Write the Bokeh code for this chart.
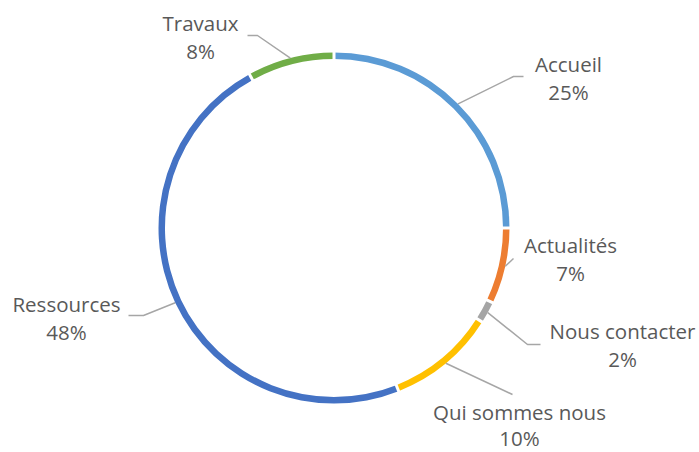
import numpy as np
from bokeh.plotting import figure
from bokeh.models import Range1d
from bokeh.core.properties import value
from bokeh.embed import file_html
from bokeh.resources import INLINE

# ---- data ----
categories = ["Accueil", "Actualités", "Nous contacter", "Qui sommes nous", "Ressources", "Travaux"]
shares = [25, 7, 2, 10, 48, 8]
colors = ["#5B9BD5", "#ED7D31", "#A5A5A5", "#FFC000", "#4472C4", "#70AD47"]

# ---- layout / style (picture-pixel frame, y measured upward) ----
W, H = 699, 452
CX, CY = 333.5, H - 227.5
R_OUT, R_IN = 175.5, 169.0
# label centre (x, y of first line), line gap, and leader elbow points
label_pos = [(568, H - 63), (570, H - 244), (622, H - 330), (519, H - 411), (66, H - 303), (200, H - 22)]
gaps = [28.5, 28.5, 28.5, 26.5, 28.5, 28.5]
elbows = [[(513, H - 76), (523, H - 76)],
          [(513, H - 258)],
          [(527, H - 344), (540, H - 344)],
          [(512, H - 394)],
          [(143, H - 315), (128, H - 315)],
          [(257, H - 35), (247, H - 35)]]
FONT = "Open Sans"
FS = "20.5px"
TXT = "#595959"

p = figure(width=W, height=H, output_backend="svg", toolbar_location=None,
           x_range=Range1d(0, W), y_range=Range1d(0, H),
           min_border=0, outline_line_color=None)
p.axis.visible = False
p.grid.visible = False
p.background_fill_color = "white"
p.border_fill_color = "white"

vals = np.array(shares, dtype=float)
frac = vals / vals.sum()
cum = np.concatenate([[0], np.cumsum(frac)])
starts = np.pi / 2 - cum[:-1] * 2 * np.pi
ends = np.pi / 2 - cum[1:] * 2 * np.pi
mids = (starts + ends) / 2

p.annular_wedge(x=CX, y=CY, inner_radius=R_IN, outer_radius=R_OUT,
                start_angle=list(starts), end_angle=list(ends), direction="clock",
                fill_color=colors, line_color=None)

# white separators between segments
for a in starts:
    p.segment(x0=CX + (R_IN - 2) * np.cos(a), y0=CY + (R_IN - 2) * np.sin(a),
              x1=CX + (R_OUT + 2) * np.cos(a), y1=CY + (R_OUT + 2) * np.sin(a),
              line_color="white", line_width=3)

# leader lines
for m, el in zip(mids, elbows):
    xs = [CX + R_OUT * np.cos(m)] + [e[0] for e in el]
    ys = [CY + R_OUT * np.sin(m)] + [e[1] for e in el]
    p.line(xs, ys, line_color="#A6A6A6", line_width=1.5)

# labels
for name, v, (lx, ly), g in zip(categories, shares, label_pos, gaps):
    p.text(x=[lx], y=[ly], text=[name], text_align="center", text_baseline="middle",
           text_font=value(FONT), text_font_size=FS, text_color=TXT)
    p.text(x=[lx], y=[ly - g], text=[f"{v}%"], text_align="center", text_baseline="middle",
           text_font=value(FONT), text_font_size=FS, text_color=TXT)

open("out.html", "w").write(file_html(p, INLINE))
